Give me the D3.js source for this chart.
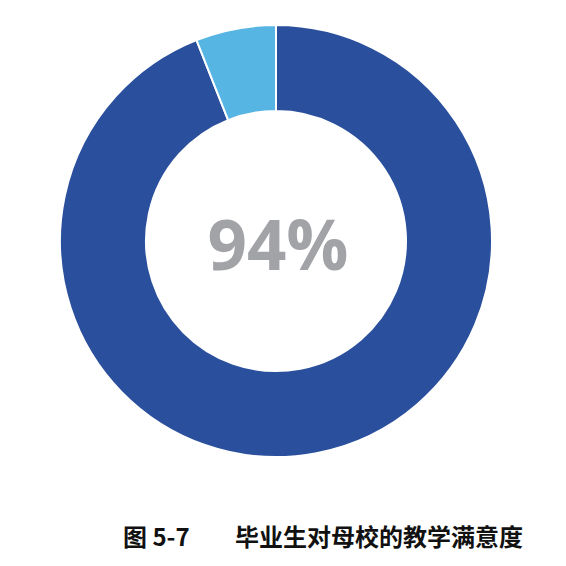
<!DOCTYPE html>
<html lang="zh">
<head>
  <meta charset="UTF-8">
  <title>毕业生对母校的教学满意度</title>
  <script src="https://d3js.org/d3.v7.min.js"></script>
  <style>
    body { margin: 0; padding: 0; background: #fff; }
    svg { display: block; }
    .center-label { font: bold 69px "Open Sans", "Noto Sans", sans-serif; fill: #a2a3a7; text-anchor: middle; }
    .caption { font: bold 24px "Noto Sans CJK SC", sans-serif; fill: #111; }
  </style>
</head>
<body>
  <script>
    const categories = ["满意", "不满意"];
    const values = [94, 6];
    const colors = ["#2a4f9c", "#56b5e3"];
    const centerText = "94%";
    const figNo = "图 5-7";
    const title = "毕业生对母校的教学满意度";

    const W = 566, H = 566;
    const cx = 276, cy = 241;
    const outerR = 216, innerR = 130;

    const svg = d3.select("body").append("svg")
      .attr("width", W)
      .attr("height", H);

    const pie = d3.pie().sort(null).value(d => d);
    const arc = d3.arc().innerRadius(innerR).outerRadius(outerR);
    const color = d3.scaleOrdinal().domain(categories).range(colors);

    const g = svg.append("g").attr("transform", `translate(${cx},${cy})`);

    g.selectAll("path")
      .data(pie(values))
      .join("path")
      .attr("d", arc)
      .attr("fill", (d, i) => color(categories[i]))
      .attr("stroke", "#fff")
      .attr("stroke-width", 2);

    g.append("text")
      .attr("class", "center-label")
      .attr("x", 2)
      .attr("y", 29)
      .text(centerText);

    svg.append("text")
      .attr("class", "caption")
      .attr("x", 123)
      .attr("y", 546)
      .text(figNo);

    svg.append("text")
      .attr("class", "caption")
      .attr("x", 235)
      .attr("y", 546)
      .text(title);
  </script>
</body>
</html>
